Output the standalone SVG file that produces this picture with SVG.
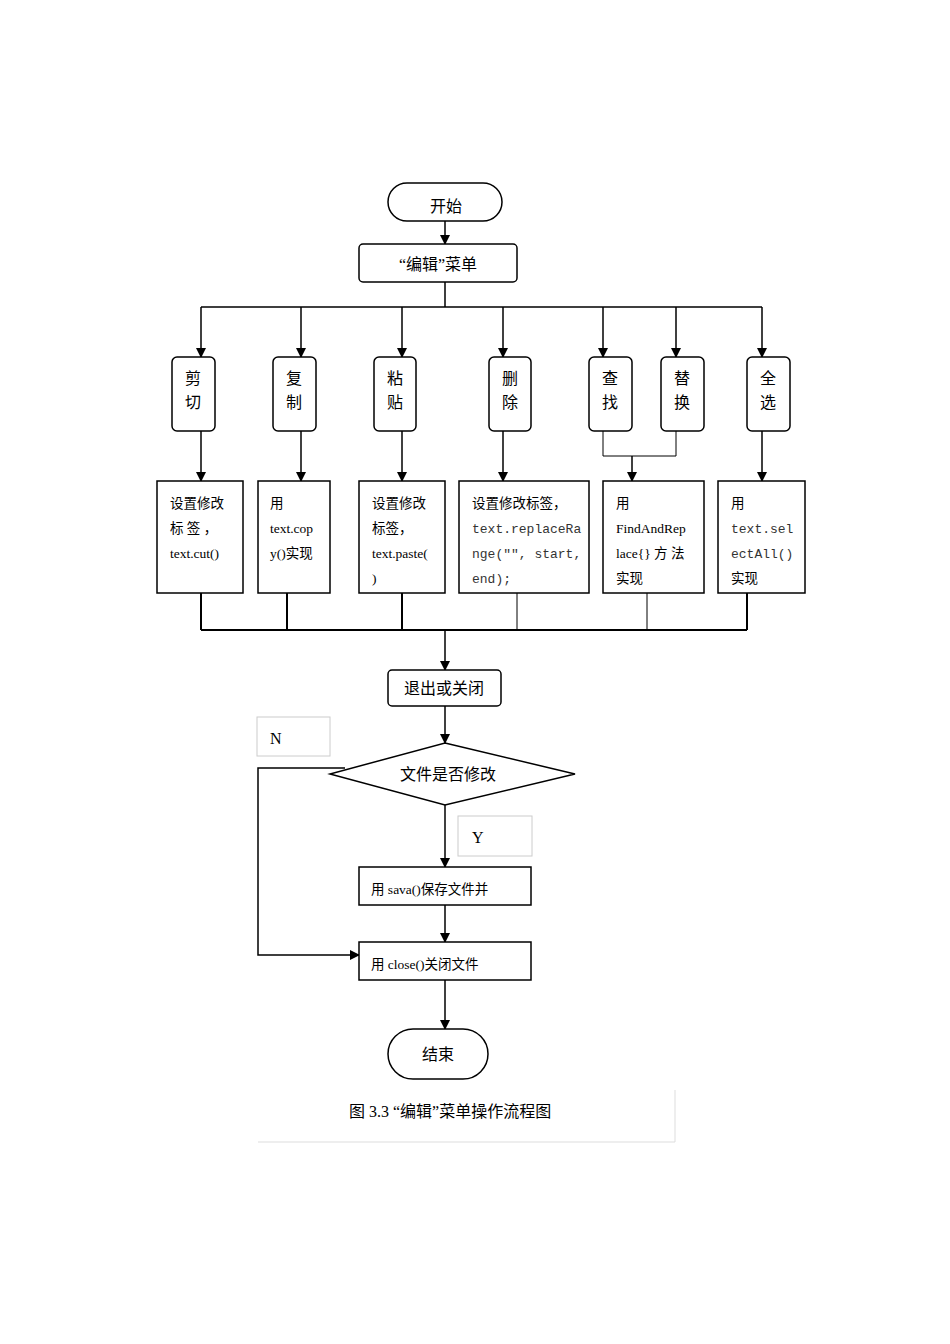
<svg xmlns="http://www.w3.org/2000/svg" width="950" height="1344" viewBox="0 0 950 1344">
<style>
.n{fill:#fff;stroke:#000;stroke-width:1.5}
.t{font-family:"Liberation Serif","Noto Sans CJK SC",serif;font-size:16px;fill:#000}
.s{font-family:"Liberation Serif","Noto Sans CJK SC",serif;font-size:13.5px;fill:#000}
.m{font-family:"Liberation Mono","Noto Sans CJK SC",monospace;font-size:13px;fill:#333}
.l{fill:none;stroke:#000;stroke-width:1.5}
.g{fill:#fff;stroke:#ccc;stroke-width:1}
</style>
<defs><marker id="a" markerWidth="10" markerHeight="10" refX="9" refY="5" orient="auto" markerUnits="userSpaceOnUse"><path d="M0,0L10,5L0,10z" fill="#000"/></marker></defs>
<rect width="950" height="1344" fill="#fff"/>
<g id="connectors">
<path class="l" marker-end="url(#a)" d="M445,221V244"/>
<path class="l" d="M445,282V307M201,307H762"/>
<path class="l" marker-end="url(#a)" d="M201,307V357"/>
<path class="l" marker-end="url(#a)" d="M301,307V357"/>
<path class="l" marker-end="url(#a)" d="M402,307V357"/>
<path class="l" marker-end="url(#a)" d="M503,307V357"/>
<path class="l" marker-end="url(#a)" d="M603,307V357"/>
<path class="l" marker-end="url(#a)" d="M676,307V357"/>
<path class="l" marker-end="url(#a)" d="M762,307V357"/>
<path class="l" marker-end="url(#a)" d="M201,431V481"/>
<path class="l" marker-end="url(#a)" d="M301,431V481"/>
<path class="l" marker-end="url(#a)" d="M402,431V481"/>
<path class="l" marker-end="url(#a)" d="M503,431V481"/>
<path class="l" style="stroke-width:1" d="M603,431V456H676V431"/>
<path class="l" marker-end="url(#a)" d="M632,456V481"/>
<path class="l" marker-end="url(#a)" d="M762,431V481"/>
<path class="l" style="stroke-width:2" d="M201,593V630M287,593V630M402,593V630M747,593V630M201,630H747"/>
<path class="l" style="stroke-width:1" d="M517,593V630M647,593V630"/>
<path class="l" marker-end="url(#a)" d="M445,630V670"/>
<path class="l" marker-end="url(#a)" d="M445,706V743"/>
<path class="l" marker-end="url(#a)" d="M445,805V867"/>
<path class="l" marker-end="url(#a)" d="M445,905V942"/>
<path class="l" marker-end="url(#a)" d="M345,768H258V955H359"/>
<path class="l" marker-end="url(#a)" d="M445,980V1029"/>
</g>
<g id="start"><rect class="n" x="388" y="183" width="114" height="38" rx="19"/><text class="t" x="446" y="212" text-anchor="middle">开始</text></g>
<g id="menu"><rect class="n" x="359" y="244" width="158" height="38" rx="4"/><text class="t" x="438" y="270" text-anchor="middle">“编辑”菜单</text></g>
<g id="cut"><rect class="n" x="172" y="357" width="43" height="74" rx="5"/><text class="t" x="193" y="384" text-anchor="middle">剪</text><text class="t" x="193" y="408" text-anchor="middle">切</text></g>
<g id="copy"><rect class="n" x="273" y="357" width="43" height="74" rx="5"/><text class="t" x="294" y="384" text-anchor="middle">复</text><text class="t" x="294" y="408" text-anchor="middle">制</text></g>
<g id="paste"><rect class="n" x="374" y="357" width="42" height="74" rx="5"/><text class="t" x="395" y="384" text-anchor="middle">粘</text><text class="t" x="395" y="408" text-anchor="middle">贴</text></g>
<g id="del"><rect class="n" x="489" y="357" width="42" height="74" rx="5"/><text class="t" x="510" y="384" text-anchor="middle">删</text><text class="t" x="510" y="408" text-anchor="middle">除</text></g>
<g id="find"><rect class="n" x="589" y="357" width="43" height="74" rx="5"/><text class="t" x="610" y="384" text-anchor="middle">查</text><text class="t" x="610" y="408" text-anchor="middle">找</text></g>
<g id="replace"><rect class="n" x="661" y="357" width="43" height="74" rx="5"/><text class="t" x="682" y="384" text-anchor="middle">替</text><text class="t" x="682" y="408" text-anchor="middle">换</text></g>
<g id="all"><rect class="n" x="747" y="357" width="43" height="74" rx="5"/><text class="t" x="768" y="384" text-anchor="middle">全</text><text class="t" x="768" y="408" text-anchor="middle">选</text></g>
<g id="b1"><rect class="n" x="157" y="481" width="86" height="112"/><text class="s" x="170" y="508">设置修改</text><text class="s" x="170" y="533">标 签 ，</text><text class="s" x="170" y="558">text.cut()</text></g>
<g id="b2"><rect class="n" x="258" y="481" width="72" height="112"/><text class="s" x="270" y="508">用</text><text class="s" x="270" y="533">text.cop</text><text class="s" x="270" y="558">y()实现</text></g>
<g id="b3"><rect class="n" x="359" y="481" width="86" height="112"/><text class="s" x="372" y="508">设置修改</text><text class="s" x="372" y="533">标签，</text><text class="s" x="372" y="558">text.paste(</text><text class="s" x="372" y="583">)</text></g>
<g id="b4"><rect class="n" x="459" y="481" width="130" height="112"/><text class="s" x="472" y="508">设置修改标签，</text><text class="m" x="472" y="533">text.replaceRa</text><text class="m" x="472" y="558">nge("",  start,</text><text class="m" x="472" y="583">end);</text></g>
<g id="b5"><rect class="n" x="603" y="481" width="101" height="112"/><text class="s" x="616" y="508">用</text><text class="s" x="616" y="533">FindAndRep</text><text class="s" x="616" y="558">lace{} 方 法</text><text class="s" x="616" y="583">实现</text></g>
<g id="b6"><rect class="n" x="718" y="481" width="87" height="112"/><text class="s" x="731" y="508">用</text><text class="m" x="731" y="533">text.sel</text><text class="m" x="731" y="558">ectAll()</text><text class="s" x="731" y="583">实现</text></g>
<g id="exit"><rect class="n" x="388" y="670" width="113" height="36" rx="4"/><text class="t" x="444" y="694" text-anchor="middle">退出或关闭</text></g>
<g id="nlabel"><rect class="g" x="257" y="717" width="73" height="39"/><text class="t" x="270" y="744">N</text></g>
<g id="decision"><path class="n" d="M445,743L575,774L445,805L330,774Z"/><text class="t" x="448" y="780" text-anchor="middle">文件是否修改</text></g>
<g id="ylabel"><rect class="g" x="458" y="816" width="74" height="40"/><text class="t" x="472" y="843">Y</text></g>
<g id="save"><rect class="n" x="359" y="867" width="172" height="38"/><text class="s" x="371" y="894">用 sava()保存文件并</text></g>
<g id="close"><rect class="n" x="359" y="942" width="172" height="38"/><text class="s" x="371" y="969">用 close()关闭文件</text></g>
<g id="end"><rect class="n" x="388" y="1029" width="100" height="50" rx="25"/><text class="t" x="438" y="1060" text-anchor="middle">结束</text></g>
<g id="caption"><path fill="none" stroke="#ddd" d="M675,1090V1142H258"/><text class="t" x="349" y="1117">图 3.3 “编辑”菜单操作流程图</text></g>
</svg>
